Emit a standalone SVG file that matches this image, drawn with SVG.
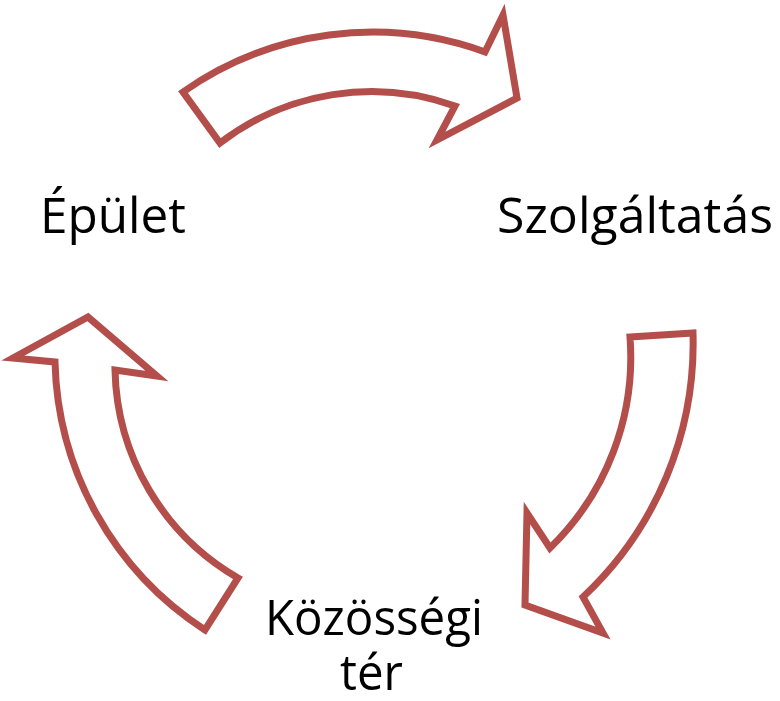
<svg xmlns="http://www.w3.org/2000/svg" width="780" height="701" viewBox="0 0 780 701">
<style>
.arrow{fill:#ffffff;stroke:#B34E4B;stroke-width:7;stroke-linejoin:miter;stroke-miterlimit:10}
.lbl{font-family:"Open Sans","Noto Sans","Liberation Sans",sans-serif;font-size:50px;fill:#000000}
</style>
<rect width="780" height="701" fill="#ffffff"/>
<g id="connectors">
<path id="arrow-top" class="arrow" d="M183,92 A330,330 0 0 1 485,52 L503,15 L517,98 L437,140 L455,106 A249,249 0 0 0 220,143 Z"/>
<path id="arrow-right" class="arrow" d="M630,337 L693,333 A347,347 0 0 1 583,597 L603,633 L525,605 L527,513 L550,548 A266,266 0 0 0 630,337 Z"/>
<path id="arrow-left" class="arrow" d="M205,630 A329,329 0 0 1 55,362 L13,358 L88,317 L157,376 L115,370 A246,246 0 0 0 238,578 Z"/>
</g>
<g id="node-epulet"><text class="lbl" x="40" y="233" textLength="146" lengthAdjust="spacingAndGlyphs">Épület</text></g>
<g id="node-szolgaltatas"><text class="lbl" x="497" y="233" textLength="276" lengthAdjust="spacingAndGlyphs">Szolgáltatás</text></g>
<g id="node-kozossegi"><text class="lbl" x="265" y="635" textLength="218" lengthAdjust="spacingAndGlyphs">Közösségi</text><text class="lbl" x="340" y="690" textLength="63" lengthAdjust="spacingAndGlyphs">tér</text></g>
</svg>
